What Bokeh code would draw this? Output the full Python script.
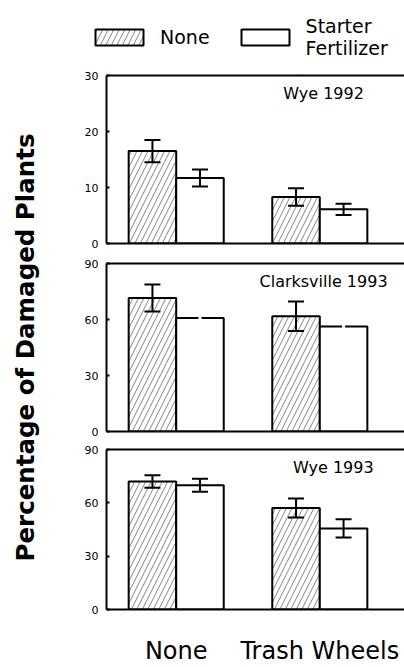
import numpy as np
from bokeh.plotting import figure
from bokeh.models import (Range1d, LinearAxis, FixedTicker, Whisker, TeeHead,
                          ColumnDataSource, Label, Legend, LegendItem)
from bokeh.layouts import row, column
from bokeh.embed import file_html
from bokeh.resources import INLINE

# ---------------- data ----------------
residue = ["None", "Trash Wheels"]                 # x categories
fert_labels = ["None", "Starter\nFertilizer"]       # series (legend)
sites = ["Wye 1992", "Clarksville 1993", "Wye 1993"]
y_max = [30, 90, 90]
y_ticks = [[0, 10, 20, 30], [0, 30, 60, 90], [0, 30, 60, 90]]

# percentage of damaged plants, per residue category
wye92_none = [16.5, 8.3]
wye92_none_se = [2.0, 1.55]
wye92_starter = [11.7, 6.1]
wye92_starter_se = [1.5, 1.0]

clk93_none = [71.5, 61.7]
clk93_none_se = [7.2, 7.9]
clk93_starter = [60.8, 56.3]
clk93_starter_se = [np.nan, np.nan]

wye93_none = [72.0, 57.1]
wye93_none_se = [3.5, 5.4]
wye93_starter = [69.9, 45.6]
wye93_starter_se = [3.7, 5.1]

panels = [
    (wye92_none, wye92_none_se, wye92_starter, wye92_starter_se),
    (clk93_none, clk93_none_se, clk93_starter, clk93_starter_se),
    (wye93_none, wye93_none_se, wye93_starter, wye93_starter_se),
]

# ---------------- layout constants ----------------
X0, X1 = 0.5146, 2.5898
BW = 0.331
FONT = "DejaVu Sans"
W = 404
HH = 70
YLW = 58
PW = W - YLW
heights = [183, 187, 227]
borders_top = [5, 10, 9]
borders_bottom = [10, 9, 49]
title_x = [2.026, 2.026, 2.094]

BAR_STYLE = [
    dict(fill_color="white", line_color="black", line_width=2,
         hatch_pattern="/", hatch_color="#333333", hatch_weight=0.6, hatch_scale=11),
    dict(fill_color="white", line_color="black", line_width=2),
]


def make_panel(i):
    none_v, none_se, st_v, st_se = [np.asarray(a, dtype=float) for a in panels[i]]
    p = figure(width=PW, height=heights[i],
               x_range=Range1d(X0, X1), y_range=Range1d(0, y_max[i]),
               output_backend="svg", toolbar_location=None,
               min_border_left=48, min_border_right=0,
               min_border_top=borders_top[i], min_border_bottom=borders_bottom[i])
    p.outline_line_color = None
    p.grid.visible = False

    xc = np.arange(1, len(residue) + 1, dtype=float)
    for k, (vals, se) in enumerate([(none_v, none_se), (st_v, st_se)]):
        xs = xc + (k - 0.5) * BW
        src = ColumnDataSource(dict(x=xs, top=vals))
        p.vbar(x="x", top="top", width=BW, source=src, **BAR_STYLE[k])

        ok = np.isfinite(se)
        if ok.any():
            wsrc = ColumnDataSource(dict(x=xs[ok], upper=(vals + se)[ok],
                                         lower=(vals - se)[ok]))
            w = Whisker(source=wsrc, base="x", upper="upper", lower="lower",
                        line_width=2, line_color="black", level="overlay",
                        upper_head=TeeHead(size=16, line_width=2, line_color="black"),
                        lower_head=TeeHead(size=16, line_width=2, line_color="black"))
            p.add_layout(w)
        if (~ok).any():
            p.scatter(xs[~ok], vals[~ok], marker="dash", size=3,
                      line_color="white", line_width=3)

    # axes
    p.yaxis.ticker = FixedTicker(ticks=y_ticks[i])
    p.yaxis.axis_line_width = 2
    p.yaxis.major_tick_in = 3
    p.yaxis.major_tick_out = 0
    p.yaxis.major_tick_line_width = 2
    p.yaxis.minor_tick_line_color = None
    p.yaxis.major_label_standoff = 8
    p.yaxis.major_label_text_font = FONT
    p.yaxis.major_label_text_font_size = "11px"
    p.yaxis.major_label_text_color = "black"

    p.xaxis.axis_line_width = 2
    p.xaxis.major_tick_line_color = None
    p.xaxis.minor_tick_line_color = None
    if i == 2:
        p.xaxis.ticker = FixedTicker(ticks=list(xc))
        p.xaxis.major_label_overrides = {float(x): name for x, name in zip(xc, residue)}
        p.xaxis.major_label_standoff = 21
        p.xaxis.major_label_text_font = FONT
        p.xaxis.major_label_text_font_size = "24px"
        p.xaxis.major_label_text_color = "black"
    else:
        p.xaxis.ticker = FixedTicker(ticks=[])

    top_ax = LinearAxis(ticker=FixedTicker(ticks=[]), axis_line_width=2,
                        major_tick_line_color=None, minor_tick_line_color=None,
                        major_tick_out=0, major_tick_in=0, major_label_standoff=0)
    p.add_layout(top_ax, "above")

    p.add_layout(Label(x=title_x[i], y=y_max[i], y_offset=-8, text=sites[i],
                       text_align="center", text_baseline="top",
                       text_font=FONT, text_font_size="16px", text_color="black"))
    return p


figs = [make_panel(i) for i in range(3)]

# header holding the legend (legend-only renderers carry no visible data)
header = figure(width=W, height=HH, x_range=Range1d(0, W), y_range=Range1d(0, HH),
                output_backend="svg", toolbar_location=None, min_border=0,
                x_axis_type=None, y_axis_type=None)
header.outline_line_color = None
header.grid.visible = False
hrs = []
for k in range(2):
    nsrc = ColumnDataSource(dict(x=[np.nan], top=[np.nan]))
    hrs.append(header.vbar(x="x", top="top", width=1, source=nsrc, **BAR_STYLE[k]))
legend = Legend(items=[LegendItem(label=fert_labels[k], renderers=[hrs[k]]) for k in range(2)],
                location=(89, 11), orientation="horizontal",
                glyph_width=60, glyph_height=20, label_standoff=11,
                spacing=25, padding=0, margin=0,
                label_text_font=FONT, label_text_font_size="19px",
                label_text_color="black",
                border_line_color=None, background_fill_alpha=0)
header.add_layout(legend)

yl = figure(width=YLW, height=667 - HH, x_range=Range1d(0, YLW), y_range=Range1d(0, 667 - HH),
            output_backend="svg", toolbar_location=None, min_border=0,
            x_axis_type=None, y_axis_type=None)
yl.outline_line_color = None
yl.grid.visible = False
yl.add_layout(Label(x=25, y=320, text="Percentage of Damaged Plants", angle=np.pi / 2,
                    text_align="center", text_baseline="middle", text_font=FONT,
                    text_font_style="bold", text_font_size="24.5px", text_color="black"))

layout = column(header, row(yl, column(*figs)))
open("out.html", "w").write(file_html(layout, INLINE))
